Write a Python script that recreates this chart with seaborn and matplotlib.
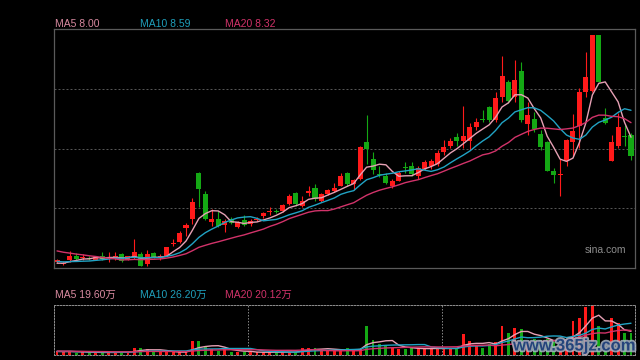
import numpy as np
import pandas as pd
import matplotlib
matplotlib.use("Agg")
import matplotlib.pyplot as plt
import seaborn as sns
from matplotlib import patheffects as pe

# ---- data ----
opens = [5.24, 5.21, 5.30, 5.38, 5.34, 5.34, 5.30, 5.38, 5.34, 5.34,
         5.42, 5.30, 5.36, 5.42, 5.20, 5.44, 5.35, 5.38, 5.65, 5.68,
         6.00, 6.19, 7.21, 6.75, 6.12, 6.19, 6.06, 6.20, 6.01, 6.17,
         6.09, 6.17, 6.25, 6.34, 6.37, 6.37, 6.52, 6.77, 6.47, 6.76,
         6.87, 6.59, 6.74, 6.81, 6.93, 7.20, 6.96, 7.07, 7.88, 7.52,
         7.19, 7.15, 6.92, 7.04, 7.34, 7.36, 7.14, 7.30, 7.36, 7.40,
         7.66, 7.80, 7.99, 7.91, 7.91, 8.21, 8.40, 8.66, 8.37, 8.88,
         9.20, 8.88, 9.46, 8.29, 8.40, 8.07, 7.89, 7.26, 7.16, 7.47,
         7.88, 8.24, 8.98, 9.02, 10.25, 8.42, 7.47, 7.81, 8.01, 8.05]
closes = [5.30, 5.22, 5.37, 5.31, 5.36, 5.32, 5.36, 5.32, 5.36, 5.38,
          5.27, 5.37, 5.46, 5.16, 5.42, 5.34, 5.37, 5.57, 5.66, 5.88,
          6.06, 6.57, 6.86, 6.19, 6.20, 6.03, 6.15, 6.10, 6.13, 6.06,
          6.15, 6.20, 6.32, 6.35, 6.35, 6.50, 6.70, 6.52, 6.59, 6.82,
          6.63, 6.74, 6.83, 6.88, 7.15, 6.96, 7.05, 7.77, 7.74, 7.27,
          7.17, 6.98, 7.04, 7.21, 7.32, 7.18, 7.32, 7.45, 7.47, 7.64,
          7.77, 7.91, 7.91, 8.03, 8.21, 8.34, 8.38, 8.37, 8.86, 9.35,
          8.80, 9.26, 8.38, 8.49, 8.18, 7.78, 7.26, 7.16, 7.18, 7.93,
          8.14, 8.98, 9.31, 10.25, 9.22, 8.30, 7.88, 8.21, 7.99, 7.59]
highs = [5.31, 5.27, 5.49, 5.44, 5.42, 5.37, 5.38, 5.46, 5.47, 5.46,
         5.44, 5.38, 5.75, 5.46, 5.51, 5.47, 5.42, 5.58, 5.75, 5.93,
         6.10, 6.66, 7.23, 6.80, 6.41, 6.37, 6.19, 6.23, 6.15, 6.28,
         6.20, 6.23, 6.35, 6.45, 6.42, 6.52, 6.74, 6.79, 6.70, 6.91,
         6.96, 6.77, 6.86, 6.99, 7.20, 7.22, 7.08, 7.80, 8.49, 7.66,
         7.37, 7.21, 7.08, 7.25, 7.45, 7.45, 7.36, 7.50, 7.52, 7.71,
         7.93, 7.98, 8.09, 8.69, 8.31, 8.42, 8.59, 8.69, 9.00, 9.79,
         9.26, 9.70, 9.66, 8.78, 8.56, 8.16, 7.91, 7.31, 7.52, 7.96,
         8.51, 9.08, 9.88, 10.25, 10.25, 8.64, 8.05, 8.53, 8.27, 8.09]
lows = [5.22, 5.18, 5.24, 5.30, 5.30, 5.30, 5.29, 5.30, 5.24, 5.30,
        5.24, 5.28, 5.31, 5.15, 5.16, 5.33, 5.30, 5.37, 5.59, 5.66,
        5.82, 6.08, 6.45, 6.17, 6.04, 6.01, 5.91, 6.08, 5.99, 6.04,
        6.03, 6.15, 6.22, 6.29, 6.32, 6.35, 6.50, 6.48, 6.45, 6.70,
        6.59, 6.56, 6.72, 6.79, 6.92, 6.91, 6.83, 7.05, 7.40, 7.18,
        7.12, 6.96, 6.88, 7.03, 7.21, 7.14, 7.07, 7.27, 7.30, 7.36,
        7.61, 7.76, 7.80, 7.76, 7.71, 8.16, 8.34, 8.34, 8.34, 8.78,
        8.75, 8.78, 8.34, 8.05, 8.10, 7.72, 7.25, 6.98, 6.70, 7.36,
        7.58, 7.76, 8.88, 9.00, 9.22, 8.28, 7.46, 7.76, 7.80, 7.50]
# volume in 万 (10k shares)
volumes = [3.3, 2.5, 3.0, 2.0, 2.2, 1.8, 2.5, 2.0, 2.2, 2.0,
           2.8, 2.2, 5.5, 6.0, 5.0, 2.7, 2.2, 2.7, 2.2, 2.2,
           2.7, 11.6, 11.6, 6.9, 5.0, 3.3, 5.5, 2.7, 2.2, 2.2,
           2.7, 2.2, 2.2, 2.2, 2.2, 2.7, 2.7, 2.2, 6.0, 6.0,
           6.0, 4.1, 3.9, 4.1, 3.9, 5.5, 3.9, 5.0, 24.2, 12.4,
           8.8, 8.3, 6.0, 5.0, 5.0, 6.0, 5.5, 5.0, 5.0, 5.5,
           6.0, 5.5, 5.5, 17.1, 11.6, 8.3, 5.5, 8.8, 11.0, 24.2,
           17.9, 22.6, 21.5, 11.0, 13.0, 12.0, 13.0, 11.0, 10.0, 12.0,
           28.1, 30.8, 39.9, 41.3, 24.2, 4.7, 30.3, 26.2, 18.4, 18.4]
# sessions before the visible window (only feed the moving averages)
prior_close = [5.80, 5.76, 5.74, 5.70, 5.72, 5.68, 5.70, 5.72, 5.70, 5.68,
               5.34, 5.30, 5.28, 5.30, 5.28, 5.22, 5.20, 5.18, 5.20]
prior_volume = [3.5, 4.0, 3.2, 3.8, 3.6, 3.4, 3.0, 3.6, 3.9, 3.5,
                3.0, 2.8, 3.2, 2.6, 3.0, 2.9, 2.7, 3.1, 2.8]
ma_windows = [5, 10, 20]
price_labels = ["MA5 8.00", "MA10 8.59", "MA20 8.32"]
volume_labels = ["MA5 19.60万", "MA10 26.20万", "MA20 20.12万"]

# ---- styling ----
BG = "#000000"
UP = "#ff1a1a"
DOWN = "#14a814"
MA_COLORS = ["#e6a0b4", "#21a3c4", "#d2336a"]
LABEL_COLORS = ["#d98aa0", "#1f9fbb", "#d2336a"]

sns.set_theme(style="dark", rc={"axes.facecolor": BG, "figure.facecolor": BG,
                                "axes.edgecolor": "#5a5a5a"})
plt.rcParams["font.family"] = ["Liberation Sans", "Noto Sans CJK SC"]

n = len(closes)
df = pd.DataFrame({"x": np.arange(n), "open": opens, "high": highs,
                   "low": lows, "close": closes, "vol": volumes})
cs = pd.Series(prior_close + closes)
vs = pd.Series(prior_volume + volumes)
k = len(prior_close)
for w in ma_windows:
    df[f"ma{w}"] = cs.rolling(w).mean().iloc[k:].values
    df[f"vma{w}"] = vs.rolling(w).mean().iloc[k:].values

W, H = 640, 360
fig = plt.figure(figsize=(6.4, 3.6), dpi=100)
ax = fig.add_axes([54 / W, (H - 268) / H, 581 / W, 239 / H])
axv = fig.add_axes([54 / W, (H - 355) / H, 581 / W, 50 / H])

xlim = (-0.47, n - 1 + 0.62)
up = df["close"] >= df["open"]
colors = np.where(up, UP, DOWN)

# candles
ax.vlines(df["x"], df["low"], df["high"], colors=colors, lw=0.8, zorder=2)
body_lo = np.minimum(df["open"], df["close"])
body_h = np.maximum((df["close"] - df["open"]).abs(), 0.022)
ax.bar(df["x"], body_h, bottom=body_lo, width=0.78, color=colors,
       linewidth=0, zorder=3)
for w, c in zip(ma_windows, MA_COLORS):
    sns.lineplot(data=df, x="x", y=f"ma{w}", color=c, lw=1.0, ax=ax, zorder=4)

ylo, yhi = 5.114, 10.377
ax.set_xlim(*xlim)
ax.set_ylim(ylo, yhi)
for q in (0.25, 0.5, 0.75):
    ax.axhline(ylo + q * (yhi - ylo), color="#555555", lw=0.72,
               linestyle=(0, (2, 2)), zorder=1)
ax.set_xticks([]); ax.set_yticks([])
ax.set_xlabel(""); ax.set_ylabel("")
for s in ax.spines.values():
    s.set_color("#5a5a5a"); s.set_linewidth(0.9)
ax.text(0.985, 0.075, "sina.com", transform=ax.transAxes, ha="right",
        va="center", color="#8c8c8c", fontsize=7.5)

# volume
axv.bar(df["x"], df["vol"], width=0.45, color=colors, linewidth=0, zorder=2)
for w, c in zip(ma_windows, MA_COLORS):
    sns.lineplot(data=df, x="x", y=f"vma{w}", color=c, lw=1.0, ax=axv, zorder=3)
axv.set_xlim(*xlim)
axv.set_ylim(0, 41.3)
axv.set_xticks([]); axv.set_yticks([])
axv.set_xlabel(""); axv.set_ylabel("")
for s in axv.spines.values():
    s.set_color("#8a8a8a"); s.set_linewidth(0.72); s.set_linestyle((0, (1.5, 1.5)))
for xv in (29.6, 59.7):
    axv.axvline(xv, color="#808080", lw=0.72, linestyle=(0, (1.5, 1.5)), zorder=1)

# labels
for xp, txt, c in zip((55, 140, 225), price_labels, LABEL_COLORS):
    fig.text(xp / W, 1 - 24 / H, txt, color=c, fontsize=7.5, va="center", ha="left")
for xp, txt, c in zip((55, 140, 225), volume_labels, LABEL_COLORS):
    fig.text(xp / W, 1 - 295 / H, txt, color=c, fontsize=7.5, va="center", ha="left")

fig.text(574 / W, 1 - 346 / H, "www.365jz.com", color="#1f3f78", fontsize=12,
         fontweight="bold", ha="center", va="center", alpha=0.95,
         path_effects=[pe.withStroke(linewidth=2.6, foreground="#aab6c6", alpha=0.85)])

fig.savefig("out.png", dpi=100, facecolor=BG)
